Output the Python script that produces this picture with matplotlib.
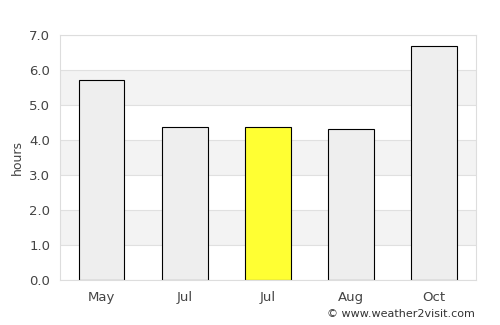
import numpy as np
import matplotlib
matplotlib.use("Agg")
import matplotlib.pyplot as plt

months = ["May", "Jul", "Jul", "Aug", "Oct"]
hours = [5.73, 4.37, 4.37, 4.31, 6.69]
bar_colors = ["#eeeeee", "#eeeeee", "#ffff33", "#eeeeee", "#eeeeee"]
yticks = [0, 1, 2, 3, 4, 5, 6, 7]

fig = plt.figure(figsize=(5, 3.25), dpi=100)
ax = fig.add_axes([0.12, 0.1385, 0.831, 0.7535])

# alternating bands
for lo in range(0, 7):
    if lo % 2 == 1:
        ax.axhspan(lo, lo + 1, color="#f3f3f3", zorder=0, lw=0)
for y in yticks:
    ax.axhline(y, color="#e0e0e0", lw=0.8, zorder=1)

x = np.arange(len(months))
ax.bar(x, hours, width=0.55, color=bar_colors, edgecolor="black", linewidth=0.8, zorder=2)

ax.set_xlim(-0.5, len(months) - 0.5)
ax.set_ylim(0, 7)
ax.set_xticks(x)
ax.set_xticklabels(months)
ax.set_yticks(yticks)
ax.set_yticklabels([f"{v:.1f}" for v in yticks])
ax.tick_params(length=0, labelsize=9.5, colors="#444444", pad=7)
ax.tick_params(axis="x", pad=8)
ax.set_ylabel("hours", fontsize=9, color="#444444", labelpad=4)

for s in ax.spines.values():
    s.set_color("#dddddd")
    s.set_linewidth(0.8)

fig.text(0.95, 0.035, "© www.weather2visit.com", ha="right", va="center",
         fontsize=8, color="#333333")

fig.savefig("out.png", dpi=100)
